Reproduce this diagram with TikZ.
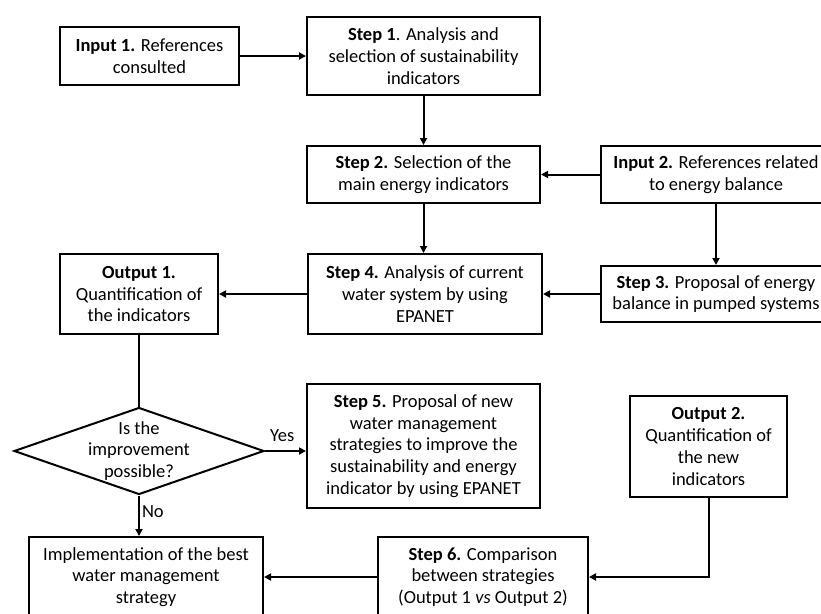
\documentclass[tikz,border=0pt]{standalone}
\usepackage{fontspec}
\setmainfont{Carlito}
\usetikzlibrary{arrows.meta,shapes.geometric}
\begin{document}
\begin{tikzpicture}[x=1pt,y=-1pt,
  every node/.style={font=\fontsize{18.5}{21.7}\selectfont},
  box/.style={draw, line width=2pt, align=center, inner sep=0pt},
  conn/.style={line width=2pt},
  arr/.style={conn, -{Triangle[length=7pt,width=7pt]}},
  lbl/.style={inner sep=2pt}]
\useasboundingbox (0,0) rectangle (821,613);
\node[box, minimum width=179pt, minimum height=58pt] (in1) at (149.5,56) {\textbf{Input 1.} References\\consulted};
\node[box, minimum width=233pt, minimum height=78pt] (s1) at (423.5,56) {\textbf{Step 1}. Analysis and\\selection of sustainability\\indicators};
\node[box, minimum width=233pt, minimum height=57pt] (s2) at (423.5,174.5) {\textbf{Step 2.} Selection of the\\main energy indicators};
\node[box, minimum width=230pt, minimum height=57pt] (in2) at (716,174.5) {\textbf{Input 2.} References related\\to energy balance};
\node[box, minimum width=230pt, minimum height=56pt] (s3) at (716,294) {\textbf{Step 3.} Proposal of energy\\balance in pumped systems};
\node[box, minimum width=234pt, minimum height=80pt] (s4) at (425,294) {\textbf{Step 4.} Analysis of current\\water system by using\\EPANET};
\node[box, minimum width=158pt, minimum height=80pt] (o1) at (139,294) {\textbf{Output 1.}\\Quantification of\\the indicators};
\node[draw, line width=2pt, shape=diamond, minimum width=250pt, minimum height=87pt, inner sep=0pt] (dec) at (139,451) {};
\node[align=center, inner sep=0pt] (dect) at (139,451) {Is the\\improvement\\possible?};
\node[box, minimum width=233pt, minimum height=124pt] (s5) at (423.5,446) {\textbf{Step 5.} Proposal of new\\water management\\strategies to improve the\\sustainability and energy\\indicator by using EPANET};
\node[box, minimum width=157pt, minimum height=101pt] (o2) at (708.5,446.5) {\textbf{Output 2.}\\Quantification of\\the new\\indicators};
\node[box, minimum width=210pt, minimum height=80pt] (s6) at (483,577) {\textbf{Step 6.} Comparison\\between strategies\\(Output 1 \textit{vs} Output 2)};
\node[box, minimum width=234pt, minimum height=80pt] (impl) at (146,577) {Implementation of the best\\water management\\strategy};

\draw[arr] (in1.east) -- (s1.west);
\draw[arr] (s1.south) -- (s2.north);
\draw[arr] (in2.west) -- (s2.east);
\draw[arr] (s2.south) -- (s2.south |- s4.north);
\draw[arr] (in2.south) -- (in2.south |- s3.north);
\draw[arr] (s3.west) -- (s4.east);
\draw[arr] (s4.west) -- (o1.east);
\draw[conn] (o1.south) -- (dec.north);
\draw[arr] (dec.east) -- node[lbl, above=6pt, pos=0.42] (yes) {Yes} (dec.east -| s5.west);
\draw[arr] (dec.south) -- node[lbl, right, pos=0.4] (no) {No} (dec.south |- impl.north);
\draw[arr] (o2.south) |- (s6.east);
\draw[arr] (s6.west) -- (impl.east);
\end{tikzpicture}
\end{document}
